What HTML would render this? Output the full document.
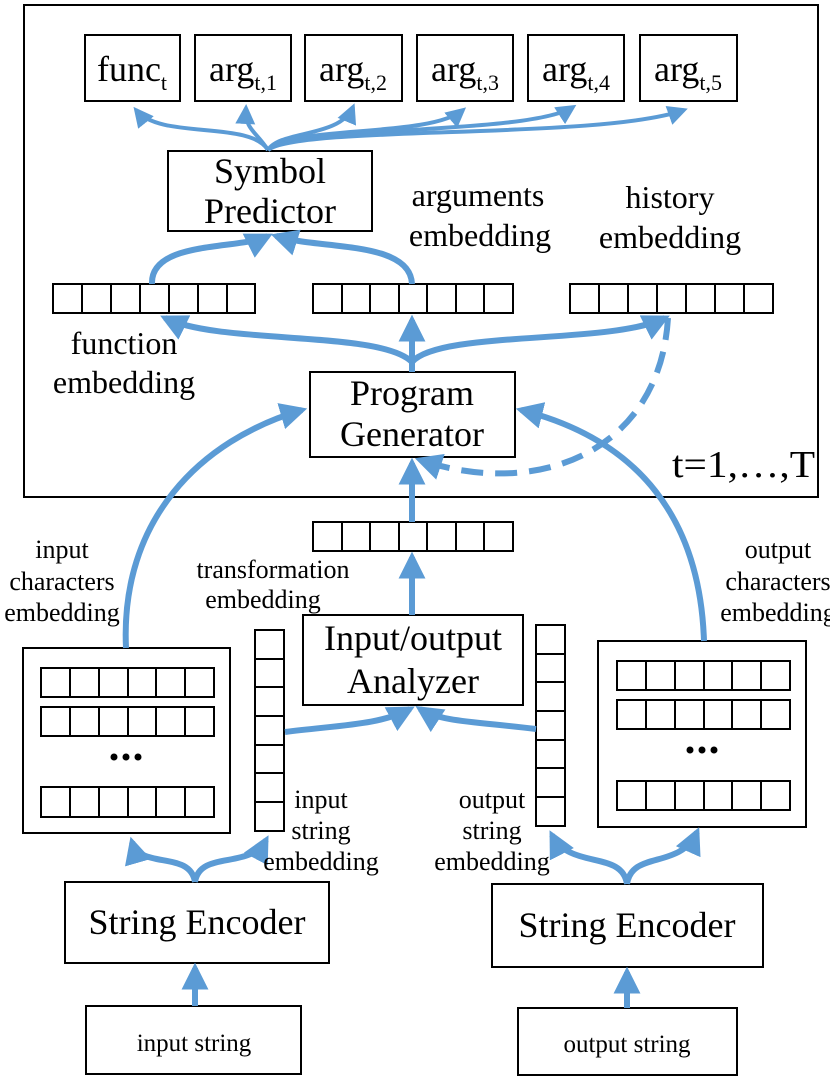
<!DOCTYPE html>
<html><head><style>
html,body{margin:0;padding:0;background:#fff;}
svg{display:block;}
text{font-family:"Liberation Serif",serif;fill:#000;}
</style></head><body>
<svg width="830" height="1091" viewBox="0 0 830 1091" xmlns="http://www.w3.org/2000/svg">
<defs>
<marker id="a" viewBox="0 0 10 10" refX="8" refY="5" markerWidth="4.5" markerHeight="4.5" orient="auto" markerUnits="strokeWidth"><path d="M0,0 L10,5 L0,10 z" fill="#5b9bd5"/></marker>
<marker id="c" viewBox="0 0 10 10" refX="8" refY="5" markerWidth="5" markerHeight="5" orient="auto" markerUnits="strokeWidth"><path d="M0,0 L10,5 L0,10 z" fill="#5b9bd5"/></marker>
</defs>
<g fill="none" stroke="#000" stroke-width="2">
<rect x="24" y="5" width="794" height="492"/>
<rect x="85" y="35" width="95" height="66"/>
<rect x="195" y="35" width="96" height="66"/>
<rect x="305" y="35" width="97" height="66"/>
<rect x="417" y="35" width="96" height="66"/>
<rect x="528" y="35" width="96" height="66"/>
<rect x="640" y="35" width="97" height="66"/>
<rect x="168" y="151" width="204" height="80"/>
<rect x="310" y="372" width="205" height="85"/>
<rect x="23" y="648" width="207" height="185"/>
<rect x="598" y="641" width="208" height="186"/>
<rect x="303" y="615" width="220" height="90"/>
<rect x="65" y="882" width="264" height="81"/>
<rect x="492" y="884" width="271" height="83"/>
<rect x="86" y="1006" width="215" height="68"/>
<rect x="518" y="1008" width="219" height="67"/>
</g>
<g fill="none" stroke="#000" stroke-width="2">
<path d="M53,284h202v29h-202z M82,284v29 M111,284v29 M140,284v29 M169,284v29 M198,284v29 M227,284v29"/>
<path d="M313,284h200v29h-200z M342,284v29 M370,284v29 M399,284v29 M427,284v29 M456,284v29 M484,284v29"/>
<path d="M570,284h203v29h-203z M599,284v29 M628,284v29 M657,284v29 M686,284v29 M715,284v29 M744,284v29"/>
<path d="M313,522h200v29h-200z M342,522v29 M370,522v29 M399,522v29 M427,522v29 M456,522v29 M484,522v29"/>
<path d="M41,668h173v29h-173z M70,668v29 M99,668v29 M128,668v29 M156,668v29 M185,668v29"/>
<path d="M41,707h173v29h-173z M70,707v29 M99,707v29 M128,707v29 M156,707v29 M185,707v29"/>
<path d="M41,787h173v30h-173z M70,787v30 M99,787v30 M128,787v30 M156,787v30 M185,787v30"/>
<path d="M617,661h173v29h-173z M646,661v29 M675,661v29 M704,661v29 M732,661v29 M761,661v29"/>
<path d="M617,700h173v29h-173z M646,700v29 M675,700v29 M704,700v29 M732,700v29 M761,700v29"/>
<path d="M617,781h173v29h-173z M646,781v29 M675,781v29 M704,781v29 M732,781v29 M761,781v29"/>
<path d="M255,630h29v201h-29z M255,659h29 M255,687h29 M255,716h29 M255,745h29 M255,773h29 M255,802h29"/>
<path d="M536,625h29v201h-29z M536,654h29 M536,682h29 M536,711h29 M536,740h29 M536,768h29 M536,797h29"/>
</g>
<g fill="#000">
<circle cx="114" cy="757" r="3.5"/><circle cx="126" cy="757" r="3.5"/><circle cx="138" cy="757" r="3.5"/>
<circle cx="690" cy="750" r="3.5"/><circle cx="702" cy="750" r="3.5"/><circle cx="714" cy="750" r="3.5"/>
</g>
<g fill="none" stroke="#5b9bd5" stroke-width="4">
<path d="M268,150 C250,120 160,140 136,110" marker-end="url(#c)"/>
<path d="M268,150 C255,130 245,130 246,108" marker-end="url(#c)"/>
<path d="M268,150 C280,130 340,138 353,107" marker-end="url(#c)"/>
<path d="M268,150 C290,125 430,138 463,110" marker-end="url(#c)"/>
<path d="M268,150 C300,125 530,135 573,107" marker-end="url(#c)"/>
<path d="M268,150 C300,125 600,140 684,110" marker-end="url(#c)"/>
</g>
<g fill="none" stroke="#5b9bd5" stroke-width="6">
<path d="M152,284 C150,240 240,250 268,236" marker-end="url(#a)"/>
<path d="M412,284 C410,240 320,250 276,236" marker-end="url(#a)"/>
<path d="M412,372 L412,320" marker-end="url(#a)"/>
<path d="M412,362 C380,330 220,345 165,318" marker-end="url(#a)"/>
<path d="M412,362 C440,330 610,345 665,318" marker-end="url(#a)"/>
<path d="M668,318 C660,450 540,500 420,460" stroke-dasharray="22,12" marker-end="url(#a)"/>
<path d="M412,522 L412,463" marker-end="url(#a)"/>
<path d="M412,615 L412,557" marker-end="url(#a)"/>
<path d="M126,648 C120,520 200,440 302,410" marker-end="url(#a)"/>
<path d="M704,641 C700,520 640,440 521,410" marker-end="url(#a)"/>
<path d="M285,732 C340,725 380,725 410,709" marker-end="url(#a)"/>
<path d="M536,729 C480,722 440,722 420,709" marker-end="url(#a)"/>
<path d="M195,882 C190,850 140,870 132,842" marker-end="url(#a)"/>
<path d="M195,882 C200,850 250,870 266,840" marker-end="url(#a)"/>
<path d="M627,884 C622,850 570,870 552,835" marker-end="url(#a)"/>
<path d="M627,884 C632,850 680,870 697,832" marker-end="url(#a)"/>
<path d="M195,1006 L195,968" marker-end="url(#a)"/>
<path d="M627,1008 L627,972" marker-end="url(#a)"/>
</g>
<g font-size="36" text-anchor="middle">
<text x="132" y="81">func<tspan font-size="22" dy="9">t</tspan></text>
<text x="243" y="81">arg<tspan font-size="22" dy="9">t,1</tspan></text>
<text x="353" y="81">arg<tspan font-size="22" dy="9">t,2</tspan></text>
<text x="465" y="81">arg<tspan font-size="22" dy="9">t,3</tspan></text>
<text x="576" y="81">arg<tspan font-size="22" dy="9">t,4</tspan></text>
<text x="688" y="81">arg<tspan font-size="22" dy="9">t,5</tspan></text>
<text x="270" y="183">Symbol</text>
<text x="270" y="223">Predictor</text>
<text x="412" y="405">Program</text>
<text x="412" y="446">Generator</text>
<text x="413" y="650">Input/output</text>
<text x="413" y="693">Analyzer</text>
<text x="197" y="934">String Encoder</text>
<text x="627" y="937">String Encoder</text>
</g>
<g font-size="32" text-anchor="middle">
<text x="478" y="206">arguments</text>
<text x="480" y="246">embedding</text>
<text x="670" y="208">history</text>
<text x="670" y="248">embedding</text>
<text x="124" y="354">function</text>
<text x="124" y="393">embedding</text>
</g>
<text x="672" y="477" font-size="38" textLength="143" lengthAdjust="spacingAndGlyphs">t=1,…,T</text>
<g font-size="26" text-anchor="middle">
<text x="62" y="558">input</text>
<text x="62" y="590">characters</text>
<text x="62" y="621">embedding</text>
<text x="273" y="578">transformation</text>
<text x="263" y="608">embedding</text>
<text x="778" y="558">output</text>
<text x="778" y="590">characters</text>
<text x="778" y="621">embedding</text>
<text x="321" y="808">input</text>
<text x="321" y="839">string</text>
<text x="321" y="870">embedding</text>
<text x="492" y="808">output</text>
<text x="492" y="839">string</text>
<text x="492" y="870">embedding</text>
</g>
<g font-size="25" text-anchor="middle">
<text x="194" y="1051">input string</text>
<text x="627" y="1052">output string</text>
</g>
</svg>
</body></html>
